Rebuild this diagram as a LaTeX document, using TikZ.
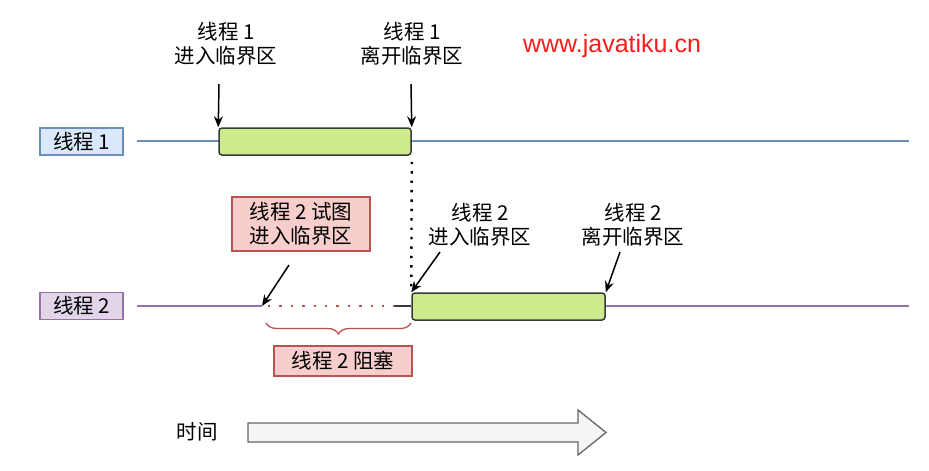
\documentclass[tikz,border=0pt]{standalone}
\usepackage{fontspec}
\setmainfont{Noto Sans CJK SC}
\newfontfamily\latinf{Liberation Sans}
\usetikzlibrary{arrows.meta,shapes.arrows,decorations.pathreplacing}
\definecolor{blueline}{HTML}{6C8EBF}
\definecolor{bluefill}{HTML}{DAE8FC}
\definecolor{purpline}{HTML}{9673A6}
\definecolor{purpfill}{HTML}{E1D5E7}
\definecolor{greenfill}{HTML}{CDEB8B}
\definecolor{darkb}{HTML}{36393D}
\definecolor{redline}{HTML}{B85450}
\definecolor{redfill}{HTML}{F8CECC}
\definecolor{webred}{HTML}{FF1A1A}
\tikzset{
  txt/.style={font=\fontsize{20.5}{24}\selectfont, align=center, inner sep=0pt},
  lab/.style={txt, draw, line width=1.3pt, minimum width=83pt, minimum height=27pt},
  crit/.style={draw=darkb, fill=greenfill, line width=1.5pt, rounded corners=3pt, minimum height=27pt, inner sep=0pt},
  redbox/.style={txt, draw=redline, fill=redfill, line width=1.3pt, inner sep=0pt},
  arr/.style={-{Stealth[length=11pt,width=9pt]}, line width=1.5pt, black},
}
\begin{document}
\begin{tikzpicture}[x=1pt,y=-1pt]
\useasboundingbox (0,0) rectangle (929,471);
% thread labels
\node[lab, draw=blueline, fill=bluefill] (t1) at (81.5,141.5) {线程 1};
\node[lab, draw=purpline, fill=purpfill] (t2) at (81.5,306) {线程 2};
% timelines
\coordinate (t1s) at (137,141);
\coordinate (t1e) at (909,141);
\draw[blueline, line width=2.2pt] (t1s) -- (t1e);
\coordinate (t2s) at (137,306);
\coordinate (t2b) at (262,306);
\coordinate (t2c) at (395,306);
\coordinate (t2e) at (909,306);
\draw[purpline, line width=2.2pt] (t2s) -- (t2b);
\draw[purpline, line width=2.2pt] (605,306) -- (t2e);
\draw[redline, line width=2.4pt, dash pattern=on 2.4pt off 9pt] (268,306) -- (t2c);
\draw[darkb, line width=1.5pt] (t2c) -- (411,306);
% critical sections
\node[crit, minimum width=192pt] (c1) at (315,141.5) {};
\node[crit, minimum width=193pt] (c2) at (508.5,306.5) {};
% dotted link
\draw[black, line width=2.4pt, dash pattern=on 2.4pt off 7pt] ([yshift=-6pt]c1.south east) -- (c2.north west);
% thread 1 annotations
\node[txt] (a1) at (226,44) {线程 1\\进入临界区};
\node[txt] (a2) at (412,44) {线程 1\\离开临界区};
\coordinate (a1s) at (219,84);
\coordinate (a2s) at (411,84);
\draw[arr] (a1s) -- (c1.north west);
\draw[arr] (a2s) -- (c1.north east);
% thread 2 annotations
\node[redbox, minimum width=138pt, minimum height=54pt] (try) at (301,224) {线程 2 试图\\进入临界区};
\coordinate (trys) at (289,265);
\draw[arr] (trys) -- (t2b);
\node[txt] (e2) at (480,225) {线程 2\\进入临界区};
\coordinate (e2s) at (440,252);
\draw[arr] (e2s) -- (c2.north west);
\node[txt] (l2) at (633,225) {线程 2\\离开临界区};
\coordinate (l2s) at (620,252);
\draw[arr] (l2s) -- (c2.north east);
% brace
\coordinate (bl) at (266,323);
\coordinate (br) at (411,323);
\draw[redline, line width=1.3pt, decorate, decoration={brace, mirror, amplitude=11pt}] (bl) -- (br);
\node[redbox, minimum width=138pt, minimum height=30pt] (blk) at (343,361) {线程 2 阻塞};
% time arrow
\node[txt] (time) at (197,432) {时间};
\draw[draw=black!60, fill=black!4, line width=1.3pt, line join=miter]
  (248,423) -- (578,423) -- (578,410) -- (606,432.5) -- (578,455) -- (578,442) -- (248,442) -- cycle;
% watermark
\node[font=\latinf\fontsize{25}{30}\selectfont, text=webred, inner sep=0pt] (web) at (612,46) {www.javatiku.cn};
\end{tikzpicture}
\end{document}
